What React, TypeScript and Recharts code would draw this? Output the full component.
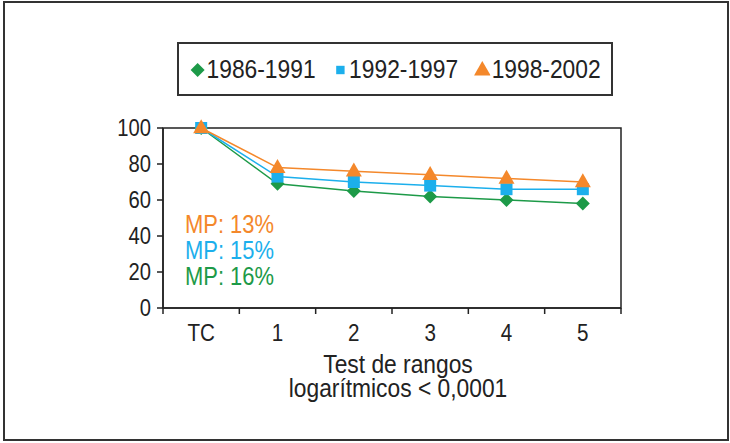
import React from "react";
import { LineChart, Line, XAxis, YAxis, Legend, ReferenceArea } from "recharts";

const CATEGORIES = ["TC", "1", "2", "3", "4", "5"];
const SERIES_NAMES = ["1986-1991", "1992-1997", "1998-2002"];
const VALUES_8691 = [100, 69, 65, 62, 60, 58];
const VALUES_9297 = [100, 73, 70, 68, 66, 66];
const VALUES_9802 = [100, 78, 76, 74, 72, 70];
const Y_TICKS = [0, 20, 40, 60, 80, 100];
const X_BOUNDS = [-0.5, 0.5, 1.5, 2.5, 3.5, 4.5, 5.5];
const MP_LABELS = ["MP: 13%", "MP: 15%", "MP: 16%"];

const GREEN = "#1d9a48";
const BLUE = "#1cafec";
const ORANGE = "#f4882b";
const INK = "#222";
const FONT = "'Liberation Sans', Arial, sans-serif";
// the original uses a condensed sans; squeeze Liberation Sans horizontally
const SX = 0.86;

const data = CATEGORIES.map((c, i) => ({
    idx: i,
    label: c,
    a: VALUES_8691[i],
    b: VALUES_9297[i],
    c: VALUES_9802[i],
}));

const xTicks = [...X_BOUNDS, ...CATEGORIES.map((_, i) => i)].sort((p, q) => p - q);

// marker shapes (diamond / square / triangle)
const Marker = ({ kind, cx, cy, color, s = 1 }: any) => {
    if (kind === "diamond") {
        const r = 7 * s;
        return <polygon points={`${cx},${cy - r} ${cx + r},${cy} ${cx},${cy + r} ${cx - r},${cy}`} fill={color} />;
    }
    if (kind === "square") {
        const h = 6 * s;
        return <rect x={cx - h} y={cy - h} width={h * 2} height={h * 2} fill={color} />;
    }
    const w = 8 * s;
    const h = 14 * s;
    return <polygon points={`${cx},${cy - h * 0.62} ${cx + w},${cy + h * 0.38} ${cx - w},${cy + h * 0.38}`} fill={color} />;
};

const dotOf = (kind: string, color: string) => (props: any) => (
    <Marker key={`${kind}-${props.index}`} kind={kind} cx={props.cx} cy={props.cy} color={color} />
);

const XTick = ({ x, y, payload }: any) => {
    const v = payload.value;
    if (Number.isInteger(v)) {
        return (
            <text
                transform={`translate(${x},${y}) scale(${SX},1)`}
                dy={23}
                textAnchor="middle"
                fill={INK}
                fontSize={24}
                fontFamily={FONT}
            >
                {CATEGORIES[v]}
            </text>
        );
    }
    return <line x1={x} x2={x} y1={y - 10} y2={y - 4} stroke={INK} strokeWidth={1.5} />;
};

const YTick = ({ x, y, payload }: any) => (
    <text
        transform={`translate(${x},${y}) scale(${SX},1)`}
        dy="0.36em"
        textAnchor="end"
        fill={INK}
        fontSize={23.5}
        fontFamily={FONT}
    >
        {payload.value}
    </text>
);

const LEGEND_KINDS: Record<string, { kind: string; size: number }> = {
    "1986-1991": { kind: "diamond", size: 1 },
    "1992-1997": { kind: "square", size: 0.7 },
    "1998-2002": { kind: "triangle", size: 1.05 },
};

const LegendBox = ({ payload }: any) => (
    <div
        style={{
            display: "flex", alignItems: "center", justifyContent: "center", height: "100%",
            gap: 19, transform: `scaleX(${SX})`, transformOrigin: "center", whiteSpace: "nowrap",
        }}
    >
        {(payload || []).map((p: any) => {
            const k = LEGEND_KINDS[p.value];
            return (
                <div key={p.value} style={{ display: "flex", alignItems: "center", flexShrink: 0 }}>
                    <svg width={19} height={18} style={{ marginRight: 1 }}>
                        <g transform={`translate(9.5,10) scale(${1 / SX},1)`}>
                            <Marker kind={k.kind} cx={0} cy={0} color={p.color} s={k.size} />
                        </g>
                    </svg>
                    <span style={{ fontSize: 26.5, color: INK, fontFamily: FONT, lineHeight: "30px" }}>{p.value}</span>
                </div>
            );
        })}
    </div>
);

export default function App() {
    return (
        <div style={{ position: "absolute", left: 0, top: 0, width: 730, height: 443, background: "#fff", fontFamily: FONT }}>
            <div
                style={{
                    position: "absolute", left: 3, top: 1, width: 726, height: 440,
                    border: "2px solid #333", boxSizing: "border-box",
                }}
            />
            <LineChart
                width={730}
                height={443}
                data={data}
                margin={{ top: 128, right: 109, bottom: 105, left: 0 }}
            >
                <XAxis
                    dataKey="idx"
                    type="number"
                    domain={[-0.5, 5.5]}
                    ticks={xTicks}
                    interval={0}
                    height={30}
                    tickSize={6}
                    tickMargin={4}
                    tickLine={false}
                    axisLine={{ stroke: INK, strokeWidth: 1.5 }}
                    tick={<XTick />}
                />
                <YAxis
                    domain={[0, 100]}
                    ticks={Y_TICKS}
                    width={163}
                    tickSize={6}
                    tickMargin={6}
                    axisLine={{ stroke: INK, strokeWidth: 1.5 }}
                    tickLine={{ stroke: INK, strokeWidth: 1.5 }}
                    tick={<YTick />}
                />
                <ReferenceArea x1={-0.5} x2={5.5} y1={0} y2={100} fill="none" stroke={INK} strokeWidth={1.5} />
                <Line dataKey="a" name={SERIES_NAMES[0]} stroke={GREEN} strokeWidth={1.5} dot={dotOf("diamond", GREEN)} isAnimationActive={false} />
                <Line dataKey="b" name={SERIES_NAMES[1]} stroke={BLUE} strokeWidth={1.5} dot={dotOf("square", BLUE)} isAnimationActive={false} />
                <Line dataKey="c" name={SERIES_NAMES[2]} stroke={ORANGE} strokeWidth={1.5} dot={dotOf("triangle", ORANGE)} isAnimationActive={false} />
                <Legend
                    verticalAlign="middle"
                    align="center"
                    content={<LegendBox />}
                    wrapperStyle={{
                        left: 177, top: 42, width: 436, height: 54,
                        border: "2px solid #333", boxSizing: "border-box", background: "#fff",
                    }}
                />
            </LineChart>
            <div
                style={{
                    position: "absolute", left: 185, top: 211, fontSize: 25.5, lineHeight: "26px",
                    transform: `scaleX(${SX})`, transformOrigin: "left",
                }}
            >
                {MP_LABELS.map((t, i) => (
                    <div key={t} style={{ color: [ORANGE, BLUE, GREEN][i] }}>{t}</div>
                ))}
            </div>
            <div
                style={{
                    position: "absolute", left: 248, top: 351.5, width: 300, textAlign: "center",
                    fontSize: 26.5, lineHeight: "24px", color: INK,
                    transform: `scaleX(${SX})`, transformOrigin: "center",
                }}
            >
                <div>Test de rangos</div>
                <div>logarítmicos &lt; 0,0001</div>
            </div>
        </div>
    );
}
